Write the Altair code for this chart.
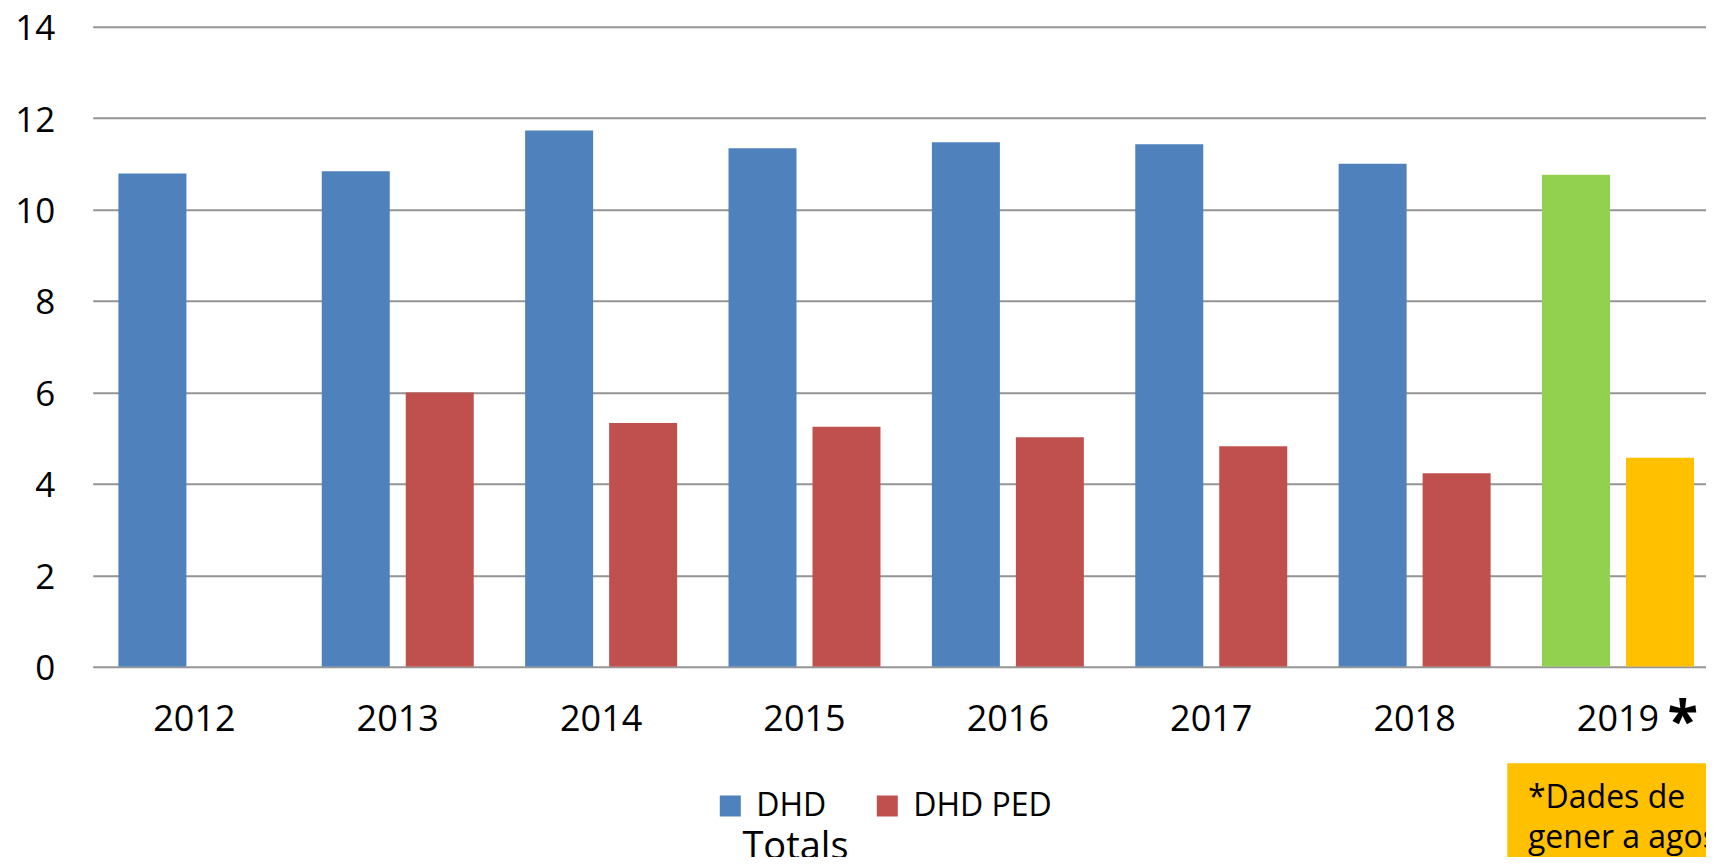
import altair as alt
import pandas as pd

years = ["2012", "2013", "2014", "2015", "2016", "2017", "2018", "2019"]
dhd = [10.79, 10.84, 11.73, 11.34, 11.47, 11.43, 11.00, 10.76]
dhd_ped = [None, 6.00, 5.33, 5.25, 5.02, 4.82, 4.23, 4.57]
series_names = ["DHD", "DHD PED"]
color_keys = ["DHD", "DHD PED", "DHD 2019", "DHD PED 2019"]
color_values = ["#4F81BD", "#C0504D", "#92D050", "#FFC000"]
y_ticks = [0, 2, 4, 6, 8, 10, 12, 14]
totals_label = "Totals"
note_text = "*Dades de\ngener a agost"
star_text = "*"

rows = []
for i, yr in enumerate(years):
    for name, vals in zip(series_names, [dhd, dhd_ped]):
        v = vals[i]
        if v is None:
            continue
        tone = name + (" 2019" if yr == "2019" else "")
        rows.append({"year": yr, "series": name, "tone": tone, "value": v})
df = pd.DataFrame(rows)

FONT = "Open Sans"
NBSP = "\u00a0"

bars = alt.Chart(df).mark_bar(clip=True).encode(
    x=alt.X(
        "year:N",
        sort=years,
        scale=alt.Scale(range=[0, 1627], paddingInner=0.2527, paddingOuter=0.12635),
        axis=alt.Axis(
            title=None, labelAngle=0, ticks=False, tickSize=0, domain=False,
            labelFontSize=36, labelFont=FONT, labelColor="#000000", labelPadding=36,
            grid=False,
        ),
    ),
    xOffset=alt.XOffset("series:N", sort=series_names,
                        scale=alt.Scale(paddingInner=0.1905, paddingOuter=0)),
    y=alt.Y(
        "value:Q",
        scale=alt.Scale(domain=[0, 14], nice=False),
        axis=alt.Axis(
            title=None, values=y_ticks, ticks=False, tickSize=0, domain=False,
            labelFontSize=35, labelFont=FONT, labelColor="#000000", labelPadding=38,
            labelOffset=2, grid=True, gridColor="#959595", gridWidth=2,
        ),
    ),
    color=alt.Color(
        "tone:N",
        scale=alt.Scale(domain=color_keys, range=color_values),
        legend=alt.Legend(
            values=series_names, orient="none", legendX=621.6, legendY=763.3,
            direction="horizontal", title=None, symbolType="square",
            symbolSize=441, symbolStrokeWidth=0, labelFontSize=32, labelFont=FONT,
            labelColor="#000000", labelOffset=10, columnPadding=44, labelLimit=0,
            labelExpr="datum.label == 'DHD' ? '" + NBSP + "DHD' : datum.label",
        ),
    ),
)

star = alt.Chart(pd.DataFrame({"t": [star_text]})).mark_text(
    font=FONT, fontSize=56, fontWeight="bold", align="center", baseline="alphabetic",
    color="#000000",
).encode(text="t:N", x=alt.value(1590), y=alt.value(713.3))

totals = alt.Chart(pd.DataFrame({"t": [totals_label]})).mark_text(
    font=FONT, fontSize=38, align="center", baseline="alphabetic", color="#000000",
).encode(text="t:N", x=alt.value(702.8), y=alt.value(832.1))

note_box = alt.Chart(pd.DataFrame({"t": [note_text]})).mark_rect(
    color="#FFC000"
).encode(x=alt.value(1414.6), x2=alt.value(1700), y=alt.value(736.6), y2=alt.value(900))

note = alt.Chart(pd.DataFrame({"t": [note_text]})).mark_text(
    font=FONT, fontSize=32, align="left", baseline="alphabetic", color="#000000",
    lineBreak="\n", lineHeight=40,
).encode(text="t:N", x=alt.value(1435.3), y=alt.value(781.3))

chart = alt.layer(bars, star, totals, note_box, note).properties(
    width=1613,
    height=640,
    padding={"left": 84.7, "top": 18.7, "right": 0, "bottom": 190.3},
    autosize="none",
    background="#ffffff",
).configure_view(stroke=None)

chart.save("out.html", embed_options={"renderer": "svg", "actions": False})
